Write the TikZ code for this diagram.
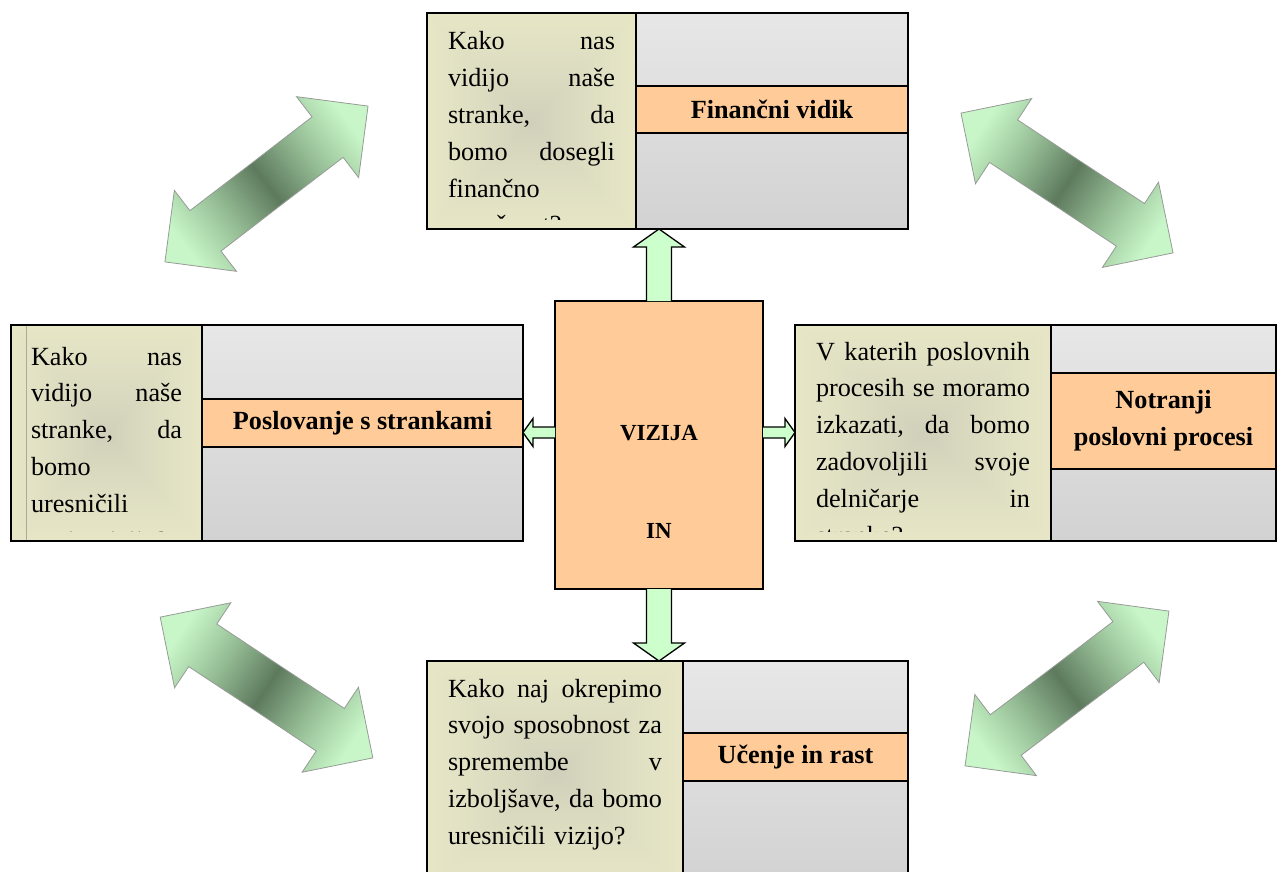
\documentclass[tikz,border=0pt]{standalone}
\usepackage{fontspec}
\setmainfont{Liberation Serif}
\usetikzlibrary{calc}

\definecolor{bandorange}{RGB}{255,204,153}
\definecolor{linkgreen}{RGB}{204,255,204}
\definecolor{diaglight}{RGB}{200,246,200}
\definecolor{diagmid}{RGB}{150,190,150}
\definecolor{diagdark}{RGB}{94,122,94}
\definecolor{diagedge}{RGB}{150,155,150}
\definecolor{panelgraytop}{RGB}{231,231,231}
\definecolor{panelgraybot}{RGB}{210,210,210}
\definecolor{panelrule}{RGB}{170,170,150}

% soft fill of the question panels: pale yellow rim, greyish centre
\pgfdeclarefunctionalshading{questionfill}{\pgfpoint{-50bp}{-50bp}}{\pgfpoint{50bp}{50bp}}{}{
  abs exch abs 2 copy lt {exch} if pop 50 div
  0.75 exp
  dup dup
  0.16 mul 0.81 add
  3 1 roll
  0.155 mul 0.81 add
  exch
  0.08 mul 0.73 add
}

% light ends, dark band across the middle of the diagonal arrows
\pgfdeclarehorizontalshading{diagband}{100bp}{
  color(0bp)=(diaglight); color(30bp)=(diaglight); color(40bp)=(diagmid);
  color(50bp)=(diagdark); color(60bp)=(diagmid); color(70bp)=(diaglight);
  color(100bp)=(diaglight)}

\newcommand\qfont{\fontsize{26.2}{36.8}\selectfont}
\newcommand\bandfont{\fontsize{26.2}{37}\selectfont\bfseries}
\newcommand\visfont{\fontsize{23}{28}\selectfont\bfseries}

% double-headed block arrow: centre x, centre y, angle, tip-to-tip length
\newcommand\dblarrow[4]{%
  \begin{scope}[transform canvas={shift={(#1,#2)}, rotate=#3}]
    \pgfmathsetmacro\hh{#4/2}
    \shade[diag] (-\hh,0) -- ({-\hh+51},-51) -- ({-\hh+51},-25.5) -- ({\hh-51},-25.5)
      -- ({\hh-51},-51) -- (\hh,0) -- ({\hh-51},51) -- ({\hh-51},25.5)
      -- ({-\hh+51},25.5) -- ({-\hh+51},51) -- cycle;
  \end{scope}}

\tikzset{
  every node/.style={inner sep=0pt, outer sep=0pt},
  frame/.style={draw=black, line width=1.8pt},
  question/.style={draw=black, line width=1.5pt, shade, shading=questionfill},
  greypanel/.style={draw=black, line width=1.5pt, top color=panelgraytop, bottom color=panelgraybot},
  band/.style={draw=black, line width=1.5pt, fill=bandorange, font=\bandfont, align=center},
  qtext/.style={anchor=base west, align=left, font=\qfont},
  link/.style={draw=black, line width=1.3pt, fill=linkgreen, line join=miter},
  diag/.style={draw=diagedge, line width=0.8pt, shading=diagband},
}

\begin{document}
\begin{tikzpicture}[x=1pt, y=-1pt]
\useasboundingbox (0,0) rectangle (1278,872);
\clip (0,0) rectangle (1278,872);

% ---- diagonal double arrows between the perspectives
\dblarrow{266.5}{184}{37.5}{256}
\dblarrow{1067}{183}{-33.4}{254}
\dblarrow{266.5}{687.5}{-33.5}{255}
\dblarrow{1067}{688.5}{37.2}{256}

% ---- financial perspective (top)
\node[question, minimum width=209, minimum height=216] (finq) at (531.5,121) {};
\node[greypanel, minimum width=272, minimum height=216] (fing) at (772,121) {};
\node[band, minimum width=272, minimum height=47] (finlab) at (772,109.5) {Finančni vidik};
\begin{scope}
  \clip (427,13) rectangle (636,219);
  \node[qtext, text width=167] (fintext) at (448,50)
    {Kako\hfill nas\\vidijo\hfill naše\\stranke,\hfill da\\bomo\hfill dosegli\\finančno\\uspešnost?};
\end{scope}
\node[frame, minimum width=481, minimum height=216] (fin) at (667.5,121) {};

% ---- customer perspective (left)
\node[question, minimum width=191, minimum height=216] (custq) at (106.5,433) {};
\draw[panelrule, line width=1pt] (26,325) -- (26,541);
\node[greypanel, minimum width=321, minimum height=216] (custg) at (362.5,433) {};
\node[band, minimum width=321, minimum height=48] (custlab) at (362.5,423) {Poslovanje s strankami};
\begin{scope}
  \clip (11,325) rectangle (202,531);
  \node[qtext, text width=151] (custtext) at (31,365)
    {Kako\hfill nas\\vidijo\hfill naše\\stranke,\hfill da\\bomo\\uresničili\\svojo vizijo?};
\end{scope}
\node[frame, minimum width=512, minimum height=216] (cust) at (267,433) {};

% ---- internal process perspective (right)
\node[question, minimum width=256, minimum height=216] (procq) at (923,433) {};
\node[greypanel, minimum width=225, minimum height=216] (procg) at (1163.5,433) {};
\node[band, minimum width=225, minimum height=96] (proclab) at (1163.5,421) {Notranji\\poslovni procesi};
\begin{scope}
  \clip (795,325) rectangle (1051,531);
  \node[qtext, text width=214] (proctext) at (816,360)
    {V\hfill katerih\hfill poslovnih\\procesih\hfill se\hfill moramo\\izkazati,\hfill da\hfill bomo\\zadovoljili\hfill svoje\\delničarje\hfill in\\stranke?};
\end{scope}
\node[frame, minimum width=481, minimum height=216] (proc) at (1035.5,433) {};

% ---- learning and growth perspective (bottom)
\node[question, minimum width=256, minimum height=224] (learnq) at (555,773) {};
\node[greypanel, minimum width=225, minimum height=224] (learng) at (795.5,773) {};
\node[band, minimum width=225, minimum height=48] (learnlab) at (795.5,757) {Učenje in rast};
\node[qtext, text width=214] (learntext) at (448,697)
  {Kako\hfill naj\hfill okrepimo\\svojo\hfill sposobnost\hfill za\\spremembe\hfill v\\izboljšave,\hfill da\hfill bomo\\uresničili vizijo?};
\node[frame, minimum width=481, minimum height=224] (learn) at (667.5,773) {};

% ---- vision in the centre
\node[draw=black, line width=1.5pt, fill=bandorange, minimum width=208, minimum height=288] (vis) at (659,445) {};
\node[font=\visfont, anchor=base] (vistop) at (659,440) {VIZIJA};
\node[font=\visfont, anchor=base] (visbot) at (659,538) {IN};

% ---- block arrows from the vision to each perspective
\draw[link] ($(vis.north)+(-12.5,0)$) -- ($(vis.north |- fin.south)+(-12.5,18)$)
  -- ($(vis.north |- fin.south)+(-25.5,18)$) -- (vis.north |- fin.south)
  -- ($(vis.north |- fin.south)+(25.5,18)$) -- ($(vis.north |- fin.south)+(12.5,18)$)
  -- ($(vis.north)+(12.5,0)$);
\draw[link] ($(vis.south)+(-12.5,0)$) -- ($(vis.south |- learn.north)+(-12.5,-18)$)
  -- ($(vis.south |- learn.north)+(-25.5,-18)$) -- (vis.south |- learn.north)
  -- ($(vis.south |- learn.north)+(25.5,-18)$) -- ($(vis.south |- learn.north)+(12.5,-18)$)
  -- ($(vis.south)+(12.5,0)$);
\coordinate (ra) at ($(vis.east)+(0,-12.5)$);
\coordinate (rb) at (ra -| proc.west);
\draw[link] ($(ra)+(0,-5.5)$) -- ($(rb)+(-10,-5.5)$) -- ($(rb)+(-10,-14)$) -- (rb)
  -- ($(rb)+(-10,14)$) -- ($(rb)+(-10,5.5)$) -- ($(ra)+(0,5.5)$);
\coordinate (la) at ($(vis.west)+(0,-12.5)$);
\coordinate (lb) at (la -| cust.east);
\draw[link] ($(la)+(0,-5.5)$) -- ($(lb)+(10,-5.5)$) -- ($(lb)+(10,-14)$) -- (lb)
  -- ($(lb)+(10,14)$) -- ($(lb)+(10,5.5)$) -- ($(la)+(0,5.5)$);
\end{tikzpicture}
\end{document}
